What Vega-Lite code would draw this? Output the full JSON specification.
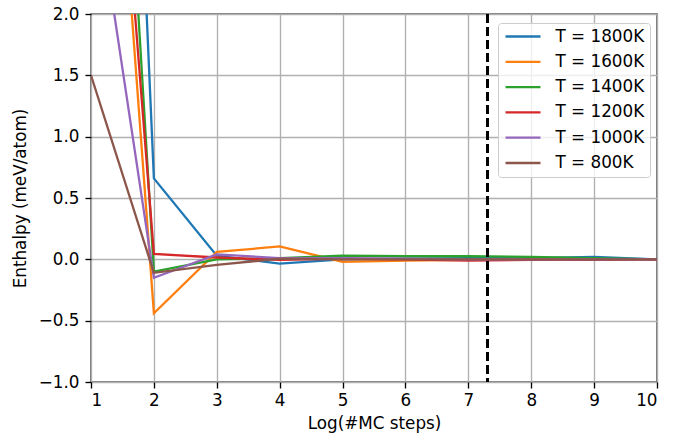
{
  "$schema": "https://vega.github.io/schema/vega-lite/v6.json",
  "autosize": {"type": "none"},
  "width": 566,
  "height": 368,
  "padding": {"left": 91, "top": 14, "right": 25, "bottom": 53},
  "background": "white",
  "config": {
    "font": "DejaVu Sans",
    "view": {"stroke": "black", "strokeWidth": 1.35},
    "axis": {
      "labelFont": "DejaVu Sans", "labelFontSize": 16.8, "labelColor": "black",
      "titleFont": "DejaVu Sans", "titleFontSize": 16.8, "titleFontWeight": "normal", "titleColor": "black",
      "gridColor": "#b0b0b0", "gridWidth": 1.35, "gridOpacity": 1,
      "tickColor": "black", "tickSize": 6, "tickWidth": 1.35,
      "domain": false, "labelPadding": 4
    }
  },
  "data": {"values": [
    {"T": "T = 1800K", "x": 1, "y": 12.3}, {"T": "T = 1800K", "x": 2, "y": 0.66}, {"T": "T = 1800K", "x": 3, "y": 0.03}, {"T": "T = 1800K", "x": 4, "y": -0.035}, {"T": "T = 1800K", "x": 5, "y": 0.0}, {"T": "T = 1800K", "x": 6, "y": 0.005}, {"T": "T = 1800K", "x": 7, "y": 0.01}, {"T": "T = 1800K", "x": 8, "y": 0.01}, {"T": "T = 1800K", "x": 9, "y": 0.02}, {"T": "T = 1800K", "x": 10, "y": 0.0},
    {"T": "T = 1600K", "x": 1, "y": 6.5}, {"T": "T = 1600K", "x": 2, "y": -0.44}, {"T": "T = 1600K", "x": 3, "y": 0.06}, {"T": "T = 1600K", "x": 4, "y": 0.105}, {"T": "T = 1600K", "x": 5, "y": -0.02}, {"T": "T = 1600K", "x": 6, "y": -0.01}, {"T": "T = 1600K", "x": 7, "y": -0.005}, {"T": "T = 1600K", "x": 8, "y": 0.0}, {"T": "T = 1600K", "x": 9, "y": 0.0}, {"T": "T = 1600K", "x": 10, "y": 0.0},
    {"T": "T = 1400K", "x": 1, "y": 8.4}, {"T": "T = 1400K", "x": 2, "y": -0.1}, {"T": "T = 1400K", "x": 3, "y": 0.0}, {"T": "T = 1400K", "x": 4, "y": 0.01}, {"T": "T = 1400K", "x": 5, "y": 0.03}, {"T": "T = 1400K", "x": 6, "y": 0.025}, {"T": "T = 1400K", "x": 7, "y": 0.025}, {"T": "T = 1400K", "x": 8, "y": 0.02}, {"T": "T = 1400K", "x": 9, "y": 0.01}, {"T": "T = 1400K", "x": 10, "y": 0.0},
    {"T": "T = 1200K", "x": 1, "y": 6.55}, {"T": "T = 1200K", "x": 2, "y": 0.045}, {"T": "T = 1200K", "x": 3, "y": 0.015}, {"T": "T = 1200K", "x": 4, "y": -0.005}, {"T": "T = 1200K", "x": 5, "y": 0.005}, {"T": "T = 1200K", "x": 6, "y": 0.0}, {"T": "T = 1200K", "x": 7, "y": -0.01}, {"T": "T = 1200K", "x": 8, "y": -0.005}, {"T": "T = 1200K", "x": 9, "y": -0.005}, {"T": "T = 1200K", "x": 10, "y": 0.0},
    {"T": "T = 1000K", "x": 1, "y": 3.26}, {"T": "T = 1000K", "x": 2, "y": -0.15}, {"T": "T = 1000K", "x": 3, "y": 0.04}, {"T": "T = 1000K", "x": 4, "y": 0.01}, {"T": "T = 1000K", "x": 5, "y": 0.01}, {"T": "T = 1000K", "x": 6, "y": 0.005}, {"T": "T = 1000K", "x": 7, "y": 0.0}, {"T": "T = 1000K", "x": 8, "y": 0.0}, {"T": "T = 1000K", "x": 9, "y": 0.0}, {"T": "T = 1000K", "x": 10, "y": 0.0},
    {"T": "T = 800K", "x": 1, "y": 1.5}, {"T": "T = 800K", "x": 2, "y": -0.11}, {"T": "T = 800K", "x": 3, "y": -0.045}, {"T": "T = 800K", "x": 4, "y": 0.005}, {"T": "T = 800K", "x": 5, "y": 0.0}, {"T": "T = 800K", "x": 6, "y": 0.0}, {"T": "T = 800K", "x": 7, "y": 0.0}, {"T": "T = 800K", "x": 8, "y": 0.0}, {"T": "T = 800K", "x": 9, "y": 0.0}, {"T": "T = 800K", "x": 10, "y": 0.0}
  ]},
  "layer": [
    {
      "mark": {"type": "line", "strokeWidth": 2.3, "clip": true},
      "encoding": {
        "x": {"field": "x", "type": "quantitative", "scale": {"domain": [1, 10], "nice": false}, "axis": {"values": [1,2,3,4,5,6,7,8,9,10], "format": "d", "title": "Log(#MC steps)", "titlePadding": 7}},
        "y": {"field": "y", "type": "quantitative", "scale": {"domain": [-1, 2], "nice": false, "zero": false}, "axis": {"values": [-1,-0.5,0,0.5,1,1.5,2], "format": ".1f", "title": "Enthalpy (meV/atom)", "titlePadding": 9, "labelPadding": 6}},
        "color": {
          "field": "T", "type": "nominal",
          "scale": {"domain": ["T = 1800K", "T = 1600K", "T = 1400K", "T = 1200K", "T = 1000K", "T = 800K"],
                    "range": ["#1f77b4", "#ff7f0e", "#2ca02c", "#d62728", "#9467bd", "#8c564b"]},
          "legend": {
            "title": null, "orient": "none", "legendX": 407, "legendY": 9,
            "symbolType": "M-2.5,0H2.5", "symbolStrokeWidth": 2.3, "symbolSize": 196, "symbolOffset": 11.5,
            "labelFontSize": 16.8, "labelFont": "DejaVu Sans", "labelColor": "black",
            "rowPadding": 7.3, "labelOffset": 24, "padding": 5,
            "strokeColor": "#cccccc", "fillColor": "rgba(255,255,255,0.8)", "cornerRadius": 3
          }
        }
      }
    },
    {
      "mark": {"type": "rule", "strokeDash": [9, 4], "strokeWidth": 2.3, "color": "black"},
      "encoding": {"x": {"datum": 7.3, "type": "quantitative"}}
    }
  ]
}
